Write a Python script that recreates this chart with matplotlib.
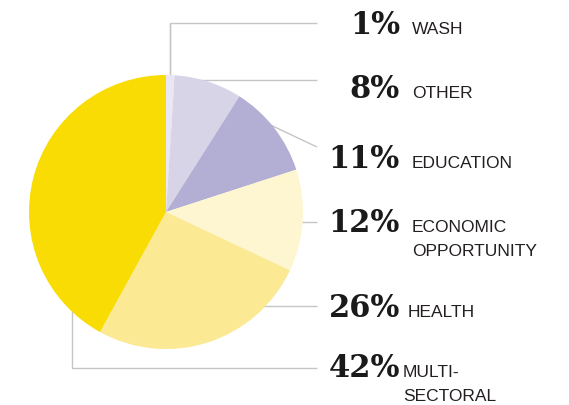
import matplotlib
matplotlib.use("Agg")
import matplotlib.pyplot as plt

# ---- data ----
categories = ["WASH", "OTHER", "EDUCATION", "ECONOMIC\nOPPORTUNITY", "HEALTH", "MULTI-\nSECTORAL"]
values = [1, 8, 11, 12, 26, 42]
pct_labels = ["1%", "8%", "11%", "12%", "26%", "42%"]
colors = ["#e9e7f3", "#d7d4e8", "#b3aed3", "#fef6d1", "#fce994", "#f9dc04"]

# ---- layout (pixel coords, y downwards) ----
W, H = 569, 406
fig = plt.figure(figsize=(W / 100, H / 100), dpi=100)
ax = fig.add_axes([0, 0, 1, 1])

ax.pie(values, colors=colors, startangle=-90, counterclock=True,
       center=(166, 213), radius=137,
       wedgeprops=dict(linewidth=0), frame=False)
for w in ax.patches:
    w.set_zorder(3)

ax.set_xlim(0, W)
ax.set_ylim(H, 0)
ax.set_aspect("equal")
ax.axis("off")

# leader lines
lc = "#c6c6c6"
lw = 1.0
leaders = [
    ([170, 170, 317], [76, 24, 24]),
    ([170, 170, 317], [24, 81, 81]),
    ([262, 317], [122, 148]),
    ([290, 317], [223, 223]),
    ([250, 317], [307, 307]),
    ([72, 72, 317], [300, 369, 369]),
]
for xs, ys in leaders:
    ax.plot(xs, ys, color=lc, lw=lw, zorder=1, solid_capstyle="butt")

# text
pct_x = 400
baselines = [34, 98, 168, 232, 317, 377]
label_x = [412, 412, 412, 412, 408, 403]
line_gap = 24
for pct, cat, yb, lx in zip(pct_labels, categories, baselines, label_x):
    ax.text(pct_x, yb, pct, ha="right", va="baseline",
            family="DejaVu Serif", fontweight="bold", fontsize=22,
            color="#1a1a1a", zorder=5)
    for i, line in enumerate(cat.split("\n")):
        ax.text(lx, yb + i * line_gap, line, ha="left", va="baseline",
                family="Liberation Sans", fontsize=12.5,
                color="#231f20", zorder=5)

fig.savefig("out.png", dpi=100)
